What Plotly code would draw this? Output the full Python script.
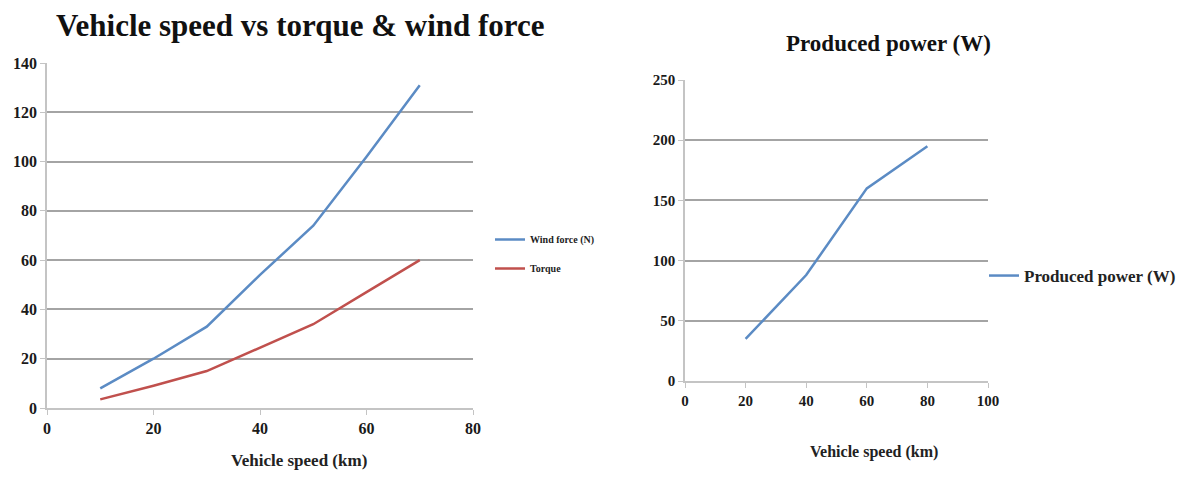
import plotly.graph_objects as go

# Left chart data
speed_left = [10, 20, 30, 40, 50, 60, 70]
wind_force = [8, 20, 33, 54, 74, 102, 131]
torque = [3.5, 9, 15, 24.5, 34, 47, 60]

# Right chart data
speed_right = [20, 40, 60, 80]
power = [35, 88, 160, 195]

left_x_ticks = [0, 20, 40, 60, 80]
left_y_ticks = [0, 20, 40, 60, 80, 100, 120, 140]
right_x_ticks = [0, 20, 40, 60, 80, 100]
right_y_ticks = [0, 50, 100, 150, 200, 250]

BLUE = "#5b8bc4"
RED = "#c0504d"
GRID = "#a4a4a4"
AXIS = "#c4c4c4"
FONT = "Liberation Serif"

# The page body has an 8px margin; size the figure to fit inside the window
OFF = 8
FW, FH = 1185 - 2 * OFF, 478 - 2 * OFF


def px(x):
    return (x - OFF) / FW


def py(y):
    return 1 - (y - OFF) / FH


fig = go.Figure()
fig.add_trace(go.Scatter(x=speed_left, y=wind_force, mode="lines", name="Wind force (N)",
                         line=dict(color=BLUE, width=2.5), xaxis="x", yaxis="y",
                         legend="legend", legendgroup="a"))
fig.add_trace(go.Scatter(x=speed_left, y=torque, mode="lines", name="Torque",
                         line=dict(color=RED, width=2.5), xaxis="x", yaxis="y",
                         legend="legend", legendgroup="b"))
fig.add_trace(go.Scatter(x=speed_right, y=power, mode="lines", name="Produced power (W)",
                         line=dict(color=BLUE, width=2.5), xaxis="x2", yaxis="y2",
                         legend="legend2"))


def tf(size):
    return dict(family=FONT, size=size, color="#1a1a1a", weight="bold")


def xax(size):
    return dict(showgrid=False, zeroline=False, showline=True, linecolor=AXIS, linewidth=1.5,
                ticks="outside", ticklen=5, tickcolor=AXIS, tickfont=tf(size), fixedrange=True,
                automargin=False)


def yax(size):
    return dict(showgrid=True, gridcolor=GRID, gridwidth=2.2, zeroline=False, showline=True,
                linecolor=AXIS, linewidth=1.5, ticks="outside", ticklen=5, tickcolor=AXIS,
                tickfont=tf(size), fixedrange=True, automargin=False)


fig.update_layout(
    width=FW, height=FH,
    autosize=False,
    margin=dict(l=0, r=0, t=0, b=0, pad=0, autoexpand=False),
    paper_bgcolor="white", plot_bgcolor="white",
    xaxis=dict(domain=[px(47), px(473)], range=[0, 80], tickvals=left_x_ticks, anchor="y", **xax(16)),
    yaxis=dict(domain=[py(408), py(63)], range=[0, 140], tickvals=left_y_ticks, anchor="x", **yax(16)),
    xaxis2=dict(domain=[px(685), px(988)], range=[0, 100], tickvals=right_x_ticks, anchor="y2", **xax(15)),
    yaxis2=dict(domain=[py(381), py(80)], range=[0, 250], tickvals=right_y_ticks, anchor="x2", **yax(15)),
    legend=dict(x=px(490), y=py(254), xanchor="left", yanchor="middle", bgcolor="rgba(0,0,0,0)",
                font=dict(family=FONT, size=10, color="#222222", weight="bold"),
                traceorder="grouped", tracegroupgap=10, itemwidth=30),
    legend2=dict(x=px(984), y=py(276), xanchor="left", yanchor="middle", bgcolor="rgba(0,0,0,0)",
                 font=dict(family=FONT, size=17, color="#222222", weight="bold"), itemwidth=30),
    showlegend=True,
    annotations=[
        dict(text="Vehicle speed vs torque & wind force", x=px(300), y=py(25), xref="paper", yref="paper",
             showarrow=False, xanchor="center", yanchor="middle",
             font=dict(family=FONT, size=31, color="#111111", weight="bold")),
        dict(text="Produced power (W)", x=px(888), y=py(43), xref="paper", yref="paper",
             showarrow=False, xanchor="center", yanchor="middle",
             font=dict(family=FONT, size=23, color="#111111", weight="bold")),
        dict(text="Vehicle speed (km)", x=px(299), y=py(460), xref="paper", yref="paper",
             showarrow=False, xanchor="center", yanchor="middle",
             font=dict(family=FONT, size=17, color="#222222", weight="bold")),
        dict(text="Vehicle speed (km)", x=px(874), y=py(452), xref="paper", yref="paper",
             showarrow=False, xanchor="center", yanchor="middle",
             font=dict(family=FONT, size=16, color="#222222", weight="bold")),
    ],
)

fig.write_html("out.html")
